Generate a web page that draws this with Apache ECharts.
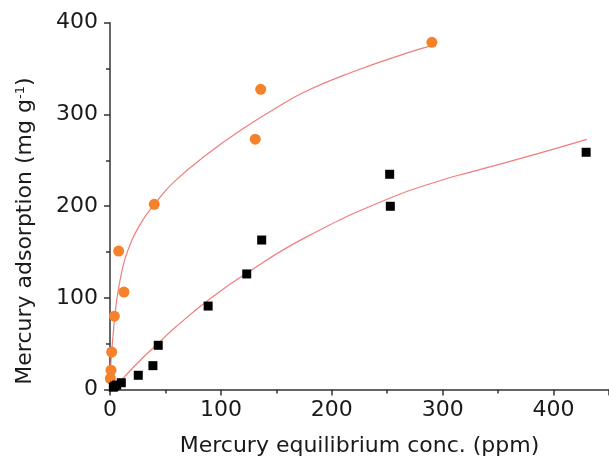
<!DOCTYPE html>
<html>
<head>
<meta charset="utf-8">
<script src="https://cdn.jsdelivr.net/npm/echarts@6/dist/echarts.min.js"></script>
<style>
html,body{margin:0;padding:0;background:#fff;}
#chart{width:609px;height:466px;}
</style>
</head>
<body>
<div id="chart"></div>
<script>
// Orange circles (measured data)
const orangeX = [0.3, 0.9, 1.5, 3.9, 7.8, 12.6, 39.9, 131, 135.9, 290.3];
const orangeY = [12, 21, 40.9, 80, 151, 106.3, 202, 273, 327.4, 378.6];
// Black squares (measured data)
const blackX = [3, 4.2, 6, 10.2, 25.5, 38.7, 43.5, 88.5, 123.3, 136.8, 252.2, 252.8, 429.4];
const blackY = [2.5, 3.8, 4.9, 7.4, 15.5, 26, 48.2, 91, 126, 163, 234.7, 199.8, 258.7];
// Fitted curves
const orangeFitX = [0, 0.6, 2.7, 5.7, 10.2, 16.2, 28.2, 40.2, 58.2, 88.2, 118.2, 148.2, 178.1, 220.4, 265.4, 290];
const orangeFitY = [3, 25, 58, 94, 126, 152, 182, 202, 227, 257, 283, 306, 326, 347, 366, 375];
const blackFitX = [5.7, 13.2, 28.2, 43.2, 58.2, 88.2, 123.3, 178.1, 252, 301, 325, 385, 430];
const blackFitY = [3, 14, 33, 50, 67, 97, 127, 167, 208.5, 229, 237, 257, 272.8];
// Axis ticks
const xTicks = [0, 100, 200, 300, 400];
const yTicks = [0, 100, 200, 300, 400];

const zip = (a, b) => a.map((v, i) => [v, b[i]]);
const font = 'DejaVu Sans, Arial, sans-serif';
const axisCol = '#333';
const txtCol = '#1a1a1a';

const chart = echarts.init(document.getElementById('chart'), null, {renderer: 'canvas'});
chart.setOption({
  animation: false,
  backgroundColor: '#fff',
  grid: {left: 110, right: -1.2, top: 22.7, bottom: 76.5, containLabel: false},
  xAxis: {
    type: 'value', min: 0, max: 450, interval: 100,
    name: 'Mercury equilibrium conc. (ppm)', nameLocation: 'middle', nameGap: 46,
    nameTextStyle: {fontFamily: font, fontSize: 22, color: txtCol},
    axisLine: {show: true, onZero: false, lineStyle: {color: axisCol, width: 1.5}},
    axisTick: {show: true, inside: false, length: 6, lineStyle: {color: axisCol, width: 1.5}},
    minorTick: {show: true, splitNumber: 2, length: 4, lineStyle: {color: axisCol, width: 1.5}},
    axisLabel: {fontFamily: font, fontSize: 22, color: txtCol, margin: 10, showMaxLabel: false,
      formatter: v => xTicks.includes(v) ? String(v) : ''},
    splitLine: {show: false}
  },
  yAxis: {
    type: 'value', min: 0, max: 400, interval: 100,
    name: 'Mercury adsorption (mg g{sup|-1})', nameLocation: 'middle', nameGap: 74, nameRotate: 90,
    nameTextStyle: {fontFamily: font, fontSize: 22, color: txtCol, padding: [0, 50, 0, 0],
      rich: {sup: {fontFamily: font, fontSize: 13, color: txtCol, verticalAlign: 'top', lineHeight: 14, padding: [0, 0, 10, 0]}}},
    axisLine: {show: true, onZero: false, lineStyle: {color: axisCol, width: 1.5}},
    axisTick: {show: true, inside: false, length: 6, lineStyle: {color: axisCol, width: 1.5}},
    minorTick: {show: true, splitNumber: 2, length: 4, lineStyle: {color: axisCol, width: 1.5}},
    axisLabel: {fontFamily: font, fontSize: 22, color: txtCol, margin: 12,
      formatter: v => yTicks.includes(v) ? String(v) : ''},
    splitLine: {show: false}
  },
  series: [
    {type: 'line', data: zip(orangeFitX, orangeFitY), smooth: true, showSymbol: false,
      lineStyle: {color: '#f07d7d', width: 1.2}, z: 2, clip: true},
    {type: 'line', data: zip(blackFitX, blackFitY), smooth: true, showSymbol: false,
      lineStyle: {color: '#f07d7d', width: 1.2}, z: 2, clip: true},
    {type: 'scatter', data: zip(orangeX, orangeY), symbol: 'circle', symbolSize: 11,
      itemStyle: {color: '#f5822a', opacity: 1}, z: 3},
    {type: 'scatter', data: zip(blackX, blackY), symbol: 'rect', symbolSize: 9,
      itemStyle: {color: '#000', opacity: 1}, z: 4}
  ]
});
</script>
</body>
</html>
